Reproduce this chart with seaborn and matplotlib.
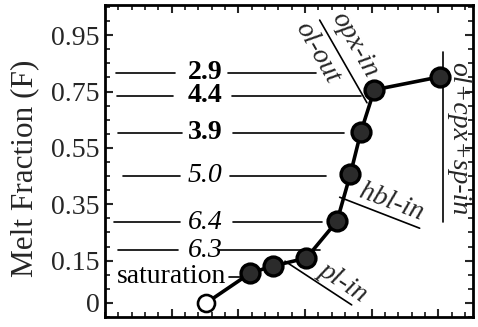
import matplotlib
matplotlib.use("Agg")
import matplotlib.pyplot as plt
import seaborn as sns
import numpy as np
import pandas as pd

# ---- data ----
run_x = [7.6, 10.9, 12.6, 15.1, 17.4, 18.4, 19.2, 20.2, 25.1]
melt_F = [0.0, 0.106, 0.131, 0.159, 0.290, 0.456, 0.608, 0.756, 0.802]
open_flags = [True, False, False, False, False, False, False, False, False]

water_labels = ["2.9", "4.4", "3.9", "5.0", "6.4", "6.3", "saturation"]
water_levels = [0.816, 0.735, 0.604, 0.452, 0.286, 0.187, 0.092]
water_styles = ["bold", "bold", "bold", "italic", "italic", "italic", "normal"]

y_ticks = [0, 0.15, 0.35, 0.55, 0.75, 0.95]
y_ticklabels = ["0", "0.15", "0.35", "0.55", "0.75", "0.95"]

sns.set_theme(style="ticks")
plt.rcParams["font.family"] = ["Liberation Serif", "DejaVu Serif"]

df = pd.DataFrame({"x": run_x, "F": melt_F, "open": open_flags})

fig = plt.figure(figsize=(4.78, 3.27), dpi=100)
ax = fig.add_axes([105 / 478, 10 / 327, 368 / 478, 312 / 327])

FS = 20

# annotation horizontal lines (label leaders)
left_x0 = [0.83, 0.9, 1.0, 1.35, 0.7, 1.0]
left_x1 = [5.25, 5.1, 5.8, 5.6, 5.6, 5.5]
right_x0 = [9.2, 9.5, 9.6, 9.4, 9.6, 8.5, 9.3]
right_x1 = [15.8, 19.2, 17.9, 16.6, 16.3, 16.1, 10.6]
lw_ann = 1.2
for i, lev in enumerate(water_levels):
    if i < len(left_x0):
        ax.plot([left_x0[i], left_x1[i]], [lev, lev], color="black", lw=lw_ann, zorder=1)
    ax.plot([right_x0[i], right_x1[i]], [lev, lev], color="black", lw=lw_ann, zorder=1)
    style = water_styles[i]
    kw = dict(fontsize=FS, ha="center", va="center", color="black")
    if style == "bold":
        kw["fontweight"] = "bold"
    elif style == "italic":
        kw["fontstyle"] = "italic"
    xt = 5.0 if water_labels[i] == "saturation" else 7.5
    ax.text(xt, lev, water_labels[i], **kw)

# main line and points
sns.lineplot(data=df, x="x", y="F", sort=False, color="black", lw=2.6, ax=ax, zorder=3)
sns.scatterplot(data=df[~df["open"]], x="x", y="F", s=185, color="#2b2b2b",
                edgecolor="black", linewidth=2.4, ax=ax, zorder=4)
sns.scatterplot(data=df[df["open"]], x="x", y="F", s=150, color="white",
                edgecolor="black", linewidth=1.9, ax=ax, zorder=4)

# phase boundary lines
ax.plot([16.1, 19.65], [1.0035, 0.710], color="black", lw=lw_ann, zorder=2)
ax.plot([25.35, 25.35], [0.89, 0.286], color="black", lw=lw_ann, zorder=2)
ax.plot([17.6, 23.6], [0.375, 0.265], color="black", lw=lw_ann, zorder=2)
ax.plot([13.5, 18.5], [0.148, -0.007], color="black", lw=lw_ann, zorder=2)

ax.text(18.7, 0.915, "opx-in", fontsize=FS, fontstyle="italic", rotation=-60.5,
        ha="center", va="center", rotation_mode="anchor")
ax.text(15.95, 0.888, "ol-out", fontsize=FS, fontstyle="italic", rotation=-60.5,
        ha="center", va="center", rotation_mode="anchor")
ax.text(26.5, 0.583, "ol+cpx+sp-in", fontsize=FS, fontstyle="italic", rotation=-90,
        ha="center", va="center", rotation_mode="anchor")
ax.text(21.5, 0.357, "hbl-in", fontsize=FS, fontstyle="italic", rotation=-20.6,
        ha="center", va="center", rotation_mode="anchor")
ax.text(17.85, 0.074, "pl-in", fontsize=FS, fontstyle="italic", rotation=-33.5,
        ha="center", va="center", rotation_mode="anchor")

# axes
ax.set_xlim(0, 27.6)
ax.set_ylim(-0.046, 1.057)
ax.set_yticks(y_ticks)
ax.set_yticklabels(y_ticklabels, fontsize=FS)
ax.set_yticks(np.arange(-0.05, 1.06, 0.05), minor=True)
ax.set_xticks([5, 10, 15, 20, 25])
ax.set_xticklabels([])
ax.set_xticks(np.arange(0, 28, 1), minor=True)
ax.set_xlabel("")
ax.set_ylabel("Melt Fraction (F)", fontsize=22.5)
ax.yaxis.set_label_coords(-0.18, 0.475)
ax.tick_params(which="major", direction="in", top=True, right=True, length=6, width=1.5, pad=4)
ax.tick_params(which="minor", direction="in", top=True, right=True, length=3.5, width=1.3)
for s in ax.spines.values():
    s.set_linewidth(2)
    s.set_color("black")

fig.savefig("out.png", dpi=100)
